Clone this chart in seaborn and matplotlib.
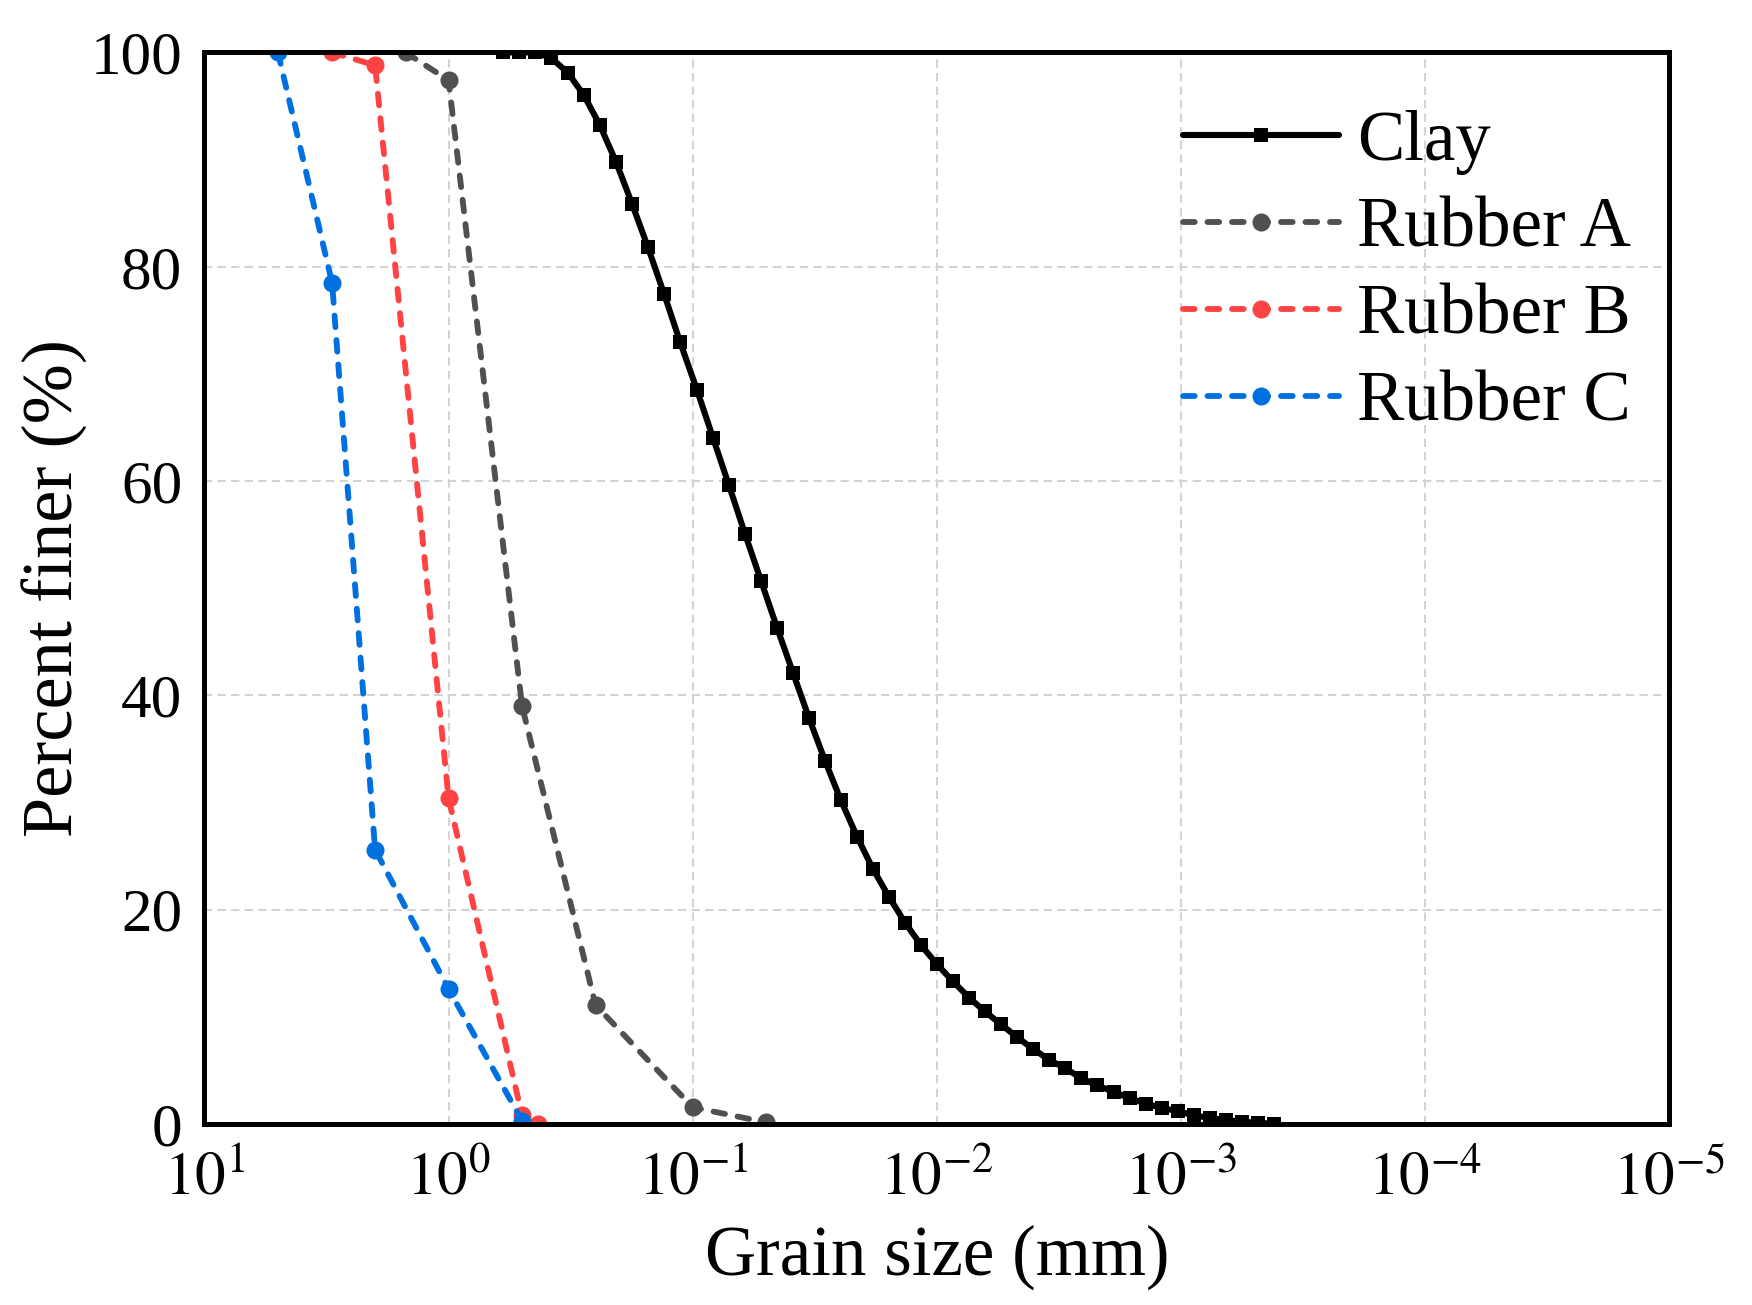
import numpy as np
import pandas as pd
import matplotlib
matplotlib.use('Agg')
import matplotlib.pyplot as plt
import seaborn as sns

# Datos (tamaño en mm, porcentaje que pasa)
clay_size = [0.5986, 0.5147, 0.4426, 0.3805, 0.3242, 0.2788, 0.2398, 0.2062, 0.1773,
             0.1524, 0.1311, 0.1127, 0.0960, 0.0826, 0.0710, 0.0611, 0.0525, 0.0451,
             0.0388, 0.0334, 0.0287, 0.0247, 0.0212, 0.01826, 0.01570, 0.01350,
             0.01161, 0.00998, 0.00858, 0.00738, 0.00635, 0.00546, 0.00469, 0.00403,
             0.00347, 0.00298, 0.00257, 0.00221, 0.00188, 0.00162, 0.00139, 0.00120,
             0.00103, 0.000884, 0.000760, 0.000653, 0.000562, 0.000483, 0.000415]
clay_pct = [100, 100, 100, 99.5, 98.1, 96.0, 93.2, 89.8, 85.9,
            81.8, 77.5, 73.0, 68.5, 64.05, 59.6, 55.1, 50.7, 46.3,
            42.1, 37.9, 33.9, 30.2, 26.8, 23.8, 21.2, 18.8,
            16.7, 14.9, 13.3, 11.8, 10.5, 9.3, 8.1, 7.0,
            6.0, 5.2, 4.3, 3.6, 3.0, 2.4, 1.9, 1.5,
            1.2, 0.8, 0.56, 0.37, 0.22, 0.1, 0.03]

rubber_a_size = [1.5, 1.0, 0.5, 0.25, 0.1, 0.05]
rubber_a_pct = [100, 97.4, 39.0, 11.1, 1.56, 0.15]

rubber_b_size = [3.0, 2.0, 1.0, 0.5, 0.43]
rubber_b_pct = [100, 98.8, 30.4, 0.8, 0.0]

rubber_c_size = [5.0, 3.0, 2.0, 1.0, 0.5]
rubber_c_pct = [100, 78.5, 25.6, 12.6, 0.3]

x_ticks = [1e1, 1e0, 1e-1, 1e-2, 1e-3, 1e-4, 1e-5]
y_ticks = [0, 20, 40, 60, 80, 100]

sns.set_style('white')
plt.rcParams['font.family'] = ['Liberation Serif', 'DejaVu Serif']
plt.rcParams['mathtext.fontset'] = 'stix'
for k in ['text.color', 'axes.labelcolor', 'xtick.color', 'ytick.color']:
    plt.rcParams[k] = 'black'

fig = plt.figure(figsize=(8.76, 6.525), dpi=200)
ax = fig.add_axes([0.1167, 0.1387, 0.836, 0.8211])

ax.set_xscale('log')
ax.set_axisbelow(True)
ax.grid(True, color='#d3d3d3', linestyle=(0, (4, 2.5)), linewidth=0.75)

dash = (0, (2, 2.2))

sns.lineplot(x=clay_size, y=clay_pct, ax=ax, color='black', marker='s',
             markersize=5, markeredgewidth=0, linewidth=2.2, sort=False,
             estimator=None, label='Clay', zorder=5)
sns.lineplot(x=rubber_a_size, y=rubber_a_pct, ax=ax, color='#505050', marker='o',
             markersize=6.5, markeredgewidth=0, linewidth=2.1, linestyle=dash,
             dash_capstyle='round', sort=False, estimator=None, label='Rubber A')
sns.lineplot(x=rubber_b_size, y=rubber_b_pct, ax=ax, color='#ff4242', marker='o',
             markersize=6.5, markeredgewidth=0, linewidth=2.1, linestyle=dash,
             dash_capstyle='round', sort=False, estimator=None, label='Rubber B')
sns.lineplot(x=rubber_c_size, y=rubber_c_pct, ax=ax, color='#0070e0', marker='o',
             markersize=6.5, markeredgewidth=0, linewidth=2.1, linestyle=dash,
             dash_capstyle='round', sort=False, estimator=None, label='Rubber C')

ax.set_xlim(1e1, 1e-5)
ax.set_ylim(0, 100)
ax.set_xticks(x_ticks)
ax.set_xticklabels([r'$10^{%d}$' % int(np.log10(t)) for t in x_ticks])
ax.set_yticks(y_ticks)
ax.xaxis.set_minor_locator(matplotlib.ticker.NullLocator())

ax.tick_params(axis='both', which='major', direction='in', length=7, width=1.5,
               labelsize=22, top=False, right=False, pad=8)
ax.tick_params(axis='x', pad=10)
for s in ax.spines.values():
    s.set_linewidth(1.8)
    s.set_color('black')

ax.set_xlabel('Grain size (mm)', fontsize=25.5, labelpad=6)
ax.set_ylabel('Percent finer (%)', fontsize=26, labelpad=1)

leg = ax.legend(loc='upper right', bbox_to_anchor=(0.993, 0.973), frameon=False,
                fontsize=25.5, handlelength=2.2, handletextpad=0.25,
                labelspacing=0.31, borderaxespad=0, borderpad=0.4)

fig.savefig('out.png', dpi=200)
